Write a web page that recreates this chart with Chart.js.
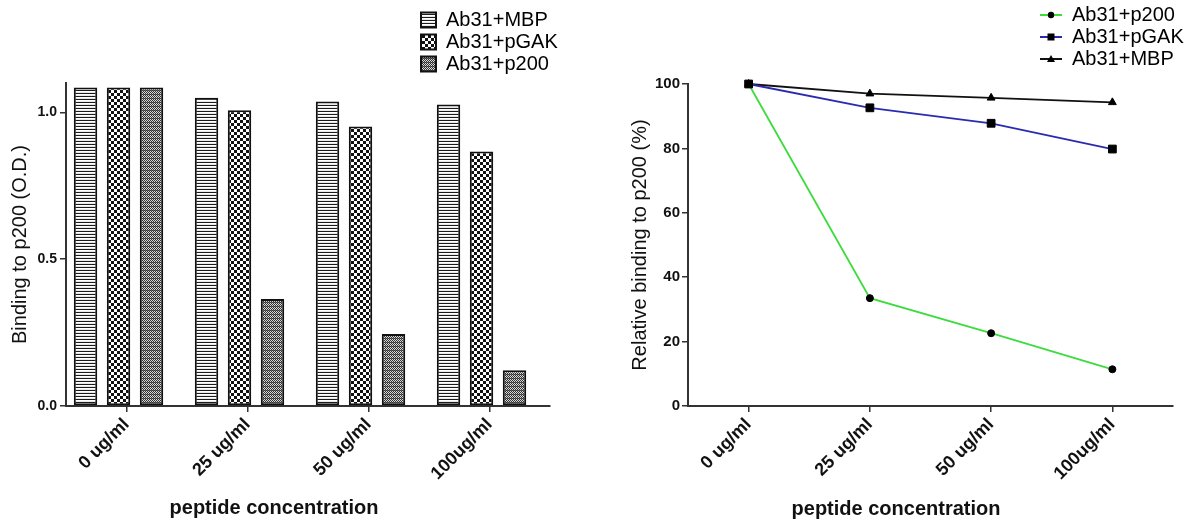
<!DOCTYPE html>
<html><head><meta charset="utf-8">
<script src="https://cdn.jsdelivr.net/npm/chart.js@4.4.1/dist/chart.umd.min.js"></script>
<style>
html,body{margin:0;padding:0;background:#fff;}
#wrap{position:relative;width:1193px;height:524px;overflow:hidden;background:#fff;}
canvas{position:absolute;}
</style></head><body>
<div id="wrap">
<canvas id="bars" width="600" height="524" style="left:0;top:0"></canvas>
<canvas id="lines" width="593" height="524" style="left:600px;top:0"></canvas>
<canvas id="legBars" width="400" height="84" style="left:419px;top:8px"></canvas>
<canvas id="legLines" width="400" height="84" style="left:1038px;top:3px"></canvas>
</div>
<script>
// ---- data ----
const categories = ['0 ug/ml', '25 ug/ml', '50 ug/ml', '100ug/ml'];
const barSeriesNames = ['Ab31+MBP', 'Ab31+pGAK', 'Ab31+p200'];
const barMBP  = [1.085, 1.050, 1.037, 1.027];
const barPGAK = [1.085, 1.007, 0.952, 0.867];
const barP200 = [1.085, 0.364, 0.245, 0.122];
const barTicks = [0, 0.5, 1.0];

const lineSeriesNames = ['Ab31+p200', 'Ab31+pGAK', 'Ab31+MBP'];
const lineP200 = [100, 33.5, 22.6, 11.4];
const linePGAK = [100, 92.6, 87.8, 79.8];
const lineMBP  = [100, 97.0, 95.7, 94.3];
const lineTicks = [0, 20, 40, 60, 80, 100];

// ---- styles ----
const FONT = '"Liberation Sans", Arial, Helvetica, sans-serif';
Chart.defaults.font.family = FONT;
Chart.defaults.color = '#111';
const AXIS = '#333';
const lineColors = ['#3ddc3d', '#2b2bb2', '#111111'];
const lineMarkers = ['circle', 'rect', 'triangle'];
const lineMarkerRadius = [3.5, 5.5, 4.5];
// bars sit slightly left of their category tick in the original
const barShift = 0.066;

function makePatterns(ctx) {
  function tile(w, h, draw) {
    const c = document.createElement('canvas');
    c.width = w; c.height = h;
    const t = c.getContext('2d');
    t.fillStyle = '#fff'; t.fillRect(0, 0, w, h);
    draw(t);
    return ctx.createPattern(c, 'repeat');
  }
  const stripes = tile(1, 3, t => { t.fillStyle = '#1a1a1a'; t.fillRect(0, 0, 1, 1); t.fillStyle = '#e8e8e8'; t.fillRect(0, 2, 1, 1); });
  const checks = tile(6, 6, t => { t.fillStyle = '#111'; t.fillRect(0, 0, 3, 3); t.fillRect(3, 3, 3, 3); });
  const dots = tile(2, 4, t => { t.fillStyle = '#d8d8d8'; t.fillRect(0, 0, 2, 4); t.fillStyle = '#333'; t.fillRect(0, 0, 1, 1); t.fillRect(1, 1, 1, 1); t.fillRect(0, 2, 1, 1); t.fillRect(1, 3, 1, 1); t.fillStyle = '#666'; t.fillRect(1, 2, 1, 1); });
  return [stripes, checks, dots];
}

const captionPlugin = {
  id: 'caption',
  afterDraw(chart, args, opts) {
    const ctx = chart.ctx;
    ctx.save();
    ctx.font = 'bold ' + opts.size + 'px ' + FONT;
    ctx.fillStyle = '#111';
    ctx.textAlign = 'center';
    ctx.textBaseline = 'middle';
    ctx.fillText(opts.text, opts.x, opts.y);
    ctx.restore();
  }
};

function axisGrid() {
  return { display: true, drawOnChartArea: false, drawTicks: true, tickLength: 6, color: AXIS, lineWidth: 1.5, offset: false };
}
function axisBorder() { return { display: true, color: AXIS, width: 2 }; }

// ---- left: bar chart ----
const barCanvas = document.getElementById('bars');
const barPats = makePatterns(barCanvas.getContext('2d'));
const barData = [barMBP, barPGAK, barP200];
new Chart(barCanvas, {
  type: 'bar',
  data: {
    labels: categories,
    datasets: barSeriesNames.map((n, i) => ({
      label: n, xAxisID: 'xb',
      data: barData[i].map((v, k) => ({ x: k, y: v })),
      backgroundColor: barPats[i],
      borderColor: '#111', borderWidth: 2, borderSkipped: false
    }))
  },
  options: {
    responsive: false, animation: false, events: [],
    layout: { padding: { left: 0, top: 83, right: 50, bottom: 0 } },
    datasets: { bar: { categoryPercentage: 0.818, barPercentage: 0.71 } },
    plugins: {
      legend: { display: false }, tooltip: { enabled: false },
      caption: { text: 'peptide concentration', x: 274, y: 508, size: 20 }
    },
    scales: {
      xb: {
        type: 'linear', display: false, offset: false,
        min: -0.5 + barShift, max: categories.length - 0.5 + barShift,
        afterBuildTicks(s) { s.ticks = categories.map((c, k) => ({ value: k })); }
      },
      x: {
        type: 'category', offset: true, grid: axisGrid(), border: axisBorder(),
        ticks: { autoSkip: false, minRotation: 45, maxRotation: 45, padding: 2, color: '#111', font: { size: 18, weight: 'bold' } },
        afterFit(s) { s.height = 118; }
      },
      y: {
        min: 0, max: 1.1,
        afterBuildTicks(s) { s.ticks = barTicks.map(v => ({ value: v })); },
        grid: axisGrid(), border: axisBorder(),
        ticks: { padding: 3, color: '#111', font: { size: 14, weight: 'bold' }, callback: v => Number(v).toFixed(1) },
        title: { display: true, text: 'Binding to p200 (O.D.)', color: '#111', font: { size: 20 }, padding: { top: 8, bottom: 0 } },
        afterFit(s) { s.width = 66; }
      }
    }
  },
  plugins: [captionPlugin]
});

// ---- right: line chart ----
const lineData = [lineP200, linePGAK, lineMBP];
const lineOrder = [1, 0, 2];
new Chart(document.getElementById('lines'), {
  type: 'line',
  data: {
    labels: categories,
    datasets: lineSeriesNames.map((n, i) => ({
      label: n, data: lineData[i], borderColor: lineColors[i], borderWidth: 1.8,
      pointStyle: lineMarkers[i], pointRadius: lineMarkerRadius[i],
      pointBackgroundColor: '#000', pointBorderColor: '#000', pointBorderWidth: 1,
      tension: 0, fill: false, clip: false, order: lineOrder[i]
    }))
  },
  options: {
    responsive: false, animation: false, events: [],
    layout: { padding: { left: 0, top: 84, right: 20, bottom: 0 } },
    plugins: {
      legend: { display: false }, tooltip: { enabled: false },
      caption: { text: 'peptide concentration', x: 296, y: 509, size: 20 }
    },
    scales: {
      x: {
        offset: true, grid: axisGrid(), border: axisBorder(),
        ticks: { autoSkip: false, minRotation: 45, maxRotation: 45, padding: 2, color: '#111', font: { size: 18, weight: 'bold' } },
        afterFit(s) { s.height = 118; }
      },
      y: {
        min: 0, max: 100,
        afterBuildTicks(s) { s.ticks = lineTicks.map(v => ({ value: v })); },
        grid: axisGrid(), border: axisBorder(),
        ticks: { padding: 2, color: '#111', font: { size: 15, weight: 'bold' } },
        title: { display: true, text: 'Relative binding to p200 (%)', color: '#111', font: { size: 20 }, padding: { top: 28, bottom: 0 } },
        afterFit(s) { s.width = 88; }
      }
    }
  },
  plugins: [captionPlugin]
});

// ---- legends (Chart.js legend in small overlay charts) ----
const legBarCanvas = document.getElementById('legBars');
const legPats = makePatterns(legBarCanvas.getContext('2d'));
new Chart(legBarCanvas, {
  type: 'bar',
  data: { labels: [], datasets: barSeriesNames.map(n => ({ label: n, data: [] })) },
  options: {
    responsive: false, animation: false, events: [],
    layout: { padding: 0 },
    scales: { x: { display: false }, y: { display: false } },
    plugins: {
      tooltip: { enabled: false },
      legend: {
        position: 'left', align: 'start',
        labels: {
          boxWidth: 15, boxHeight: 15, padding: 2, color: '#111', font: { size: 20 },
          generateLabels: () => barSeriesNames.map((n, i) => ({
            text: n, fillStyle: legPats[i], strokeStyle: '#111', lineWidth: 2, hidden: false, datasetIndex: i
          }))
        }
      }
    }
  }
});

function legendSymbol(color, marker) {
  const c = document.createElement('canvas');
  c.width = 22; c.height = 12;
  const t = c.getContext('2d');
  t.strokeStyle = color; t.lineWidth = 2;
  t.beginPath(); t.moveTo(0, 6); t.lineTo(22, 6); t.stroke();
  t.fillStyle = '#000';
  t.beginPath();
  if (marker === 'circle') { t.arc(11, 6, 3.2, 0, Math.PI * 2); }
  else if (marker === 'rect') { t.rect(7.5, 2.5, 7, 7); }
  else { t.moveTo(11, 2); t.lineTo(15, 9); t.lineTo(7, 9); t.closePath(); }
  t.fill();
  return c;
}
new Chart(document.getElementById('legLines'), {
  type: 'line',
  data: { labels: [], datasets: lineSeriesNames.map(n => ({ label: n, data: [] })) },
  options: {
    responsive: false, animation: false, events: [],
    layout: { padding: 0 },
    scales: { x: { display: false }, y: { display: false } },
    plugins: {
      tooltip: { enabled: false },
      legend: {
        position: 'left', align: 'start',
        labels: {
          usePointStyle: true, pointStyleWidth: 22, padding: 2, color: '#111', font: { size: 20 },
          generateLabels: () => lineSeriesNames.map((n, i) => ({
            text: n, pointStyle: legendSymbol(lineColors[i], lineMarkers[i]),
            fillStyle: '#000', strokeStyle: lineColors[i], lineWidth: 0, hidden: false, datasetIndex: i
          }))
        }
      }
    }
  }
});
</script>
</body></html>
